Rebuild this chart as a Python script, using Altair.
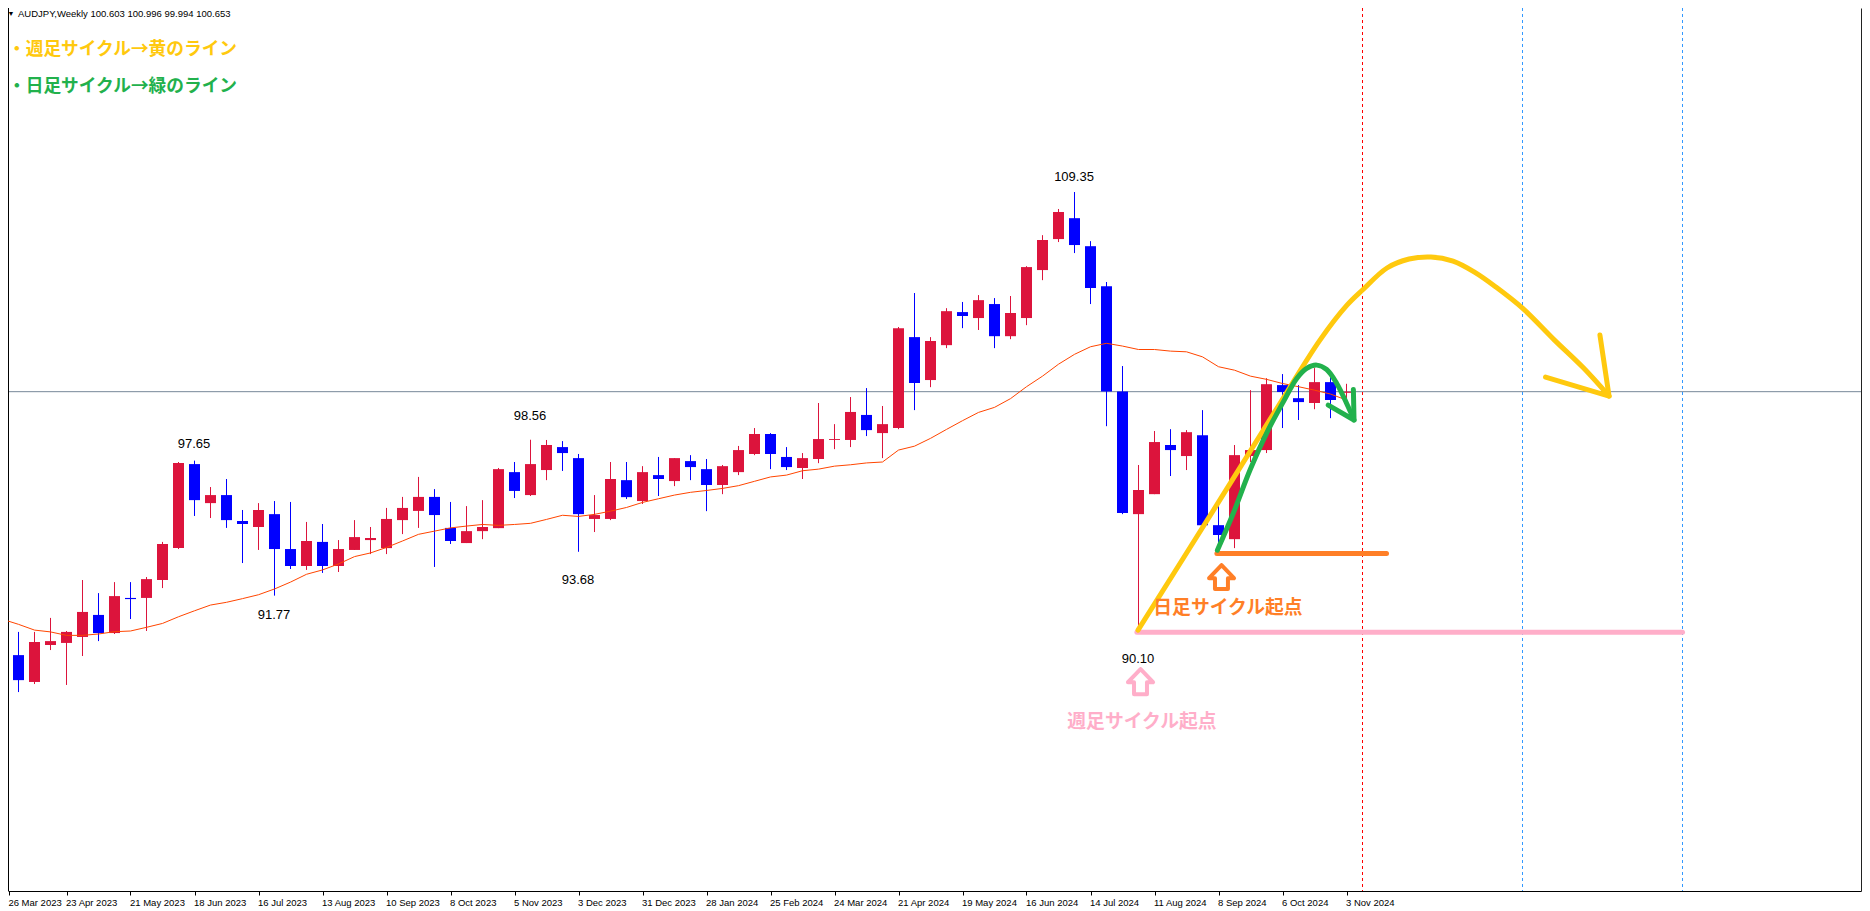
import altair as alt
import pandas as pd

opens = [86.79,89.18,88.01,89.62,89.71,89.97,90.93,90.14,91.67,91.67,
         92.45,93.84,97.50,95.80,96.15,95.02,94.76,95.32,93.80,93.06,
         94.11,93.06,93.76,94.19,93.84,95.06,95.46,96.07,94.72,94.06,
         94.58,94.71,97.15,96.15,97.24,98.24,97.76,95.11,95.11,96.80,
         95.89,97.02,96.76,97.63,97.28,96.59,97.15,97.94,98.81,97.81,
         97.33,97.72,98.55,98.55,99.64,98.85,99.07,103.03,101.16,102.68,
         104.12,103.86,104.47,103.07,103.86,105.95,107.30,108.21,106.99,105.25,
         100.66,95.32,96.19,98.33,97.85,98.76,94.84,94.23,97.85,98.11,
         100.94,100.37,100.16,101.07,100.603]
highs = [89.69,90.19,90.19,90.80,90.23,92.45,91.88,92.36,92.36,92.58,
         94.11,97.59,97.65,96.50,96.85,95.50,95.80,95.89,95.85,94.98,
         94.89,94.19,95.06,94.76,95.59,96.07,96.94,96.41,95.85,95.67,
         95.93,97.33,97.59,98.56,98.55,98.50,97.94,96.15,97.59,97.59,
         97.41,97.81,97.76,97.89,97.72,97.46,98.29,99.07,98.85,98.24,
         97.98,100.16,99.24,100.42,100.81,100.03,103.47,104.95,103.03,104.29,
         104.56,104.86,104.73,104.82,106.12,107.47,108.61,109.35,107.21,105.43,
         101.77,97.46,98.94,99.02,98.98,99.85,95.71,98.33,100.72,101.24,
         101.42,100.94,101.68,101.45,100.996]
lows = [86.67,87.57,87.92,89.40,87.88,89.14,89.79,90.10,90.75,90.23,
        92.10,93.80,95.24,95.15,94.72,93.19,93.76,91.77,92.93,92.89,
        92.76,92.80,93.76,93.58,93.58,94.45,94.72,93.02,94.02,94.06,
        94.23,94.71,96.02,96.11,96.80,97.20,93.68,94.54,95.06,95.98,
        95.76,96.11,96.54,96.80,95.45,96.19,97.02,97.89,97.28,97.24,
        96.85,97.54,98.15,98.24,98.72,97.76,99.02,99.85,100.85,102.55,
        103.42,103.34,102.55,102.94,103.55,105.51,107.17,106.69,104.47,99.15,
        95.32,90.10,96.19,96.98,97.24,94.84,94.05,93.84,97.59,97.98,
        99.07,99.42,99.89,99.50,99.994]
closes = [88.79,88.09,89.75,89.79,90.19,91.06,90.14,91.75,91.62,92.49,
          94.02,97.55,95.93,96.15,95.06,94.89,95.50,93.80,93.06,94.15,
          93.06,93.80,94.32,94.28,95.11,95.59,96.07,95.28,94.15,94.58,
          94.76,97.28,96.33,97.50,98.33,97.98,95.32,95.28,96.85,96.06,
          97.15,96.85,97.76,97.37,96.59,97.41,98.11,98.81,97.94,97.37,
          97.76,98.59,98.59,99.77,98.98,99.24,103.42,101.03,102.86,104.16,
          103.95,104.64,103.07,104.08,106.08,107.26,108.48,107.04,105.17,100.66,
          95.37,96.37,98.46,98.11,98.89,94.84,94.41,97.89,98.11,100.98,
          100.64,100.20,101.07,100.29,100.653]
ema = [90.74,90.52,90.27,90.19,90.04,90.04,90.10,90.20,90.23,90.39,
       90.56,90.85,91.11,91.36,91.48,91.64,91.81,92.06,92.36,92.70,
       92.89,93.15,93.47,93.63,93.87,94.15,94.44,94.58,94.72,94.80,
       94.87,94.83,94.87,94.92,95.09,95.27,95.22,95.31,95.45,95.61,
       95.83,95.99,96.15,96.27,96.35,96.44,96.56,96.75,96.94,97.02,
       97.21,97.28,97.41,97.47,97.55,97.59,98.11,98.28,98.62,99.01,
       99.39,99.75,99.97,100.35,100.87,101.33,101.85,102.28,102.61,102.76,
       102.64,102.49,102.49,102.42,102.39,102.17,101.74,101.59,101.33,101.19,
       101.01,100.87,100.72,100.55,100.29]
tick_labels = ["26 Mar 2023","23 Apr 2023","21 May 2023","18 Jun 2023","16 Jul 2023","13 Aug 2023",
               "10 Sep 2023","8 Oct 2023","5 Nov 2023","3 Dec 2023","31 Dec 2023","28 Jan 2024",
               "25 Feb 2024","24 Mar 2024","21 Apr 2024","19 May 2024","16 Jun 2024","14 Jul 2024",
               "11 Aug 2024","8 Sep 2024","6 Oct 2024","3 Nov 2024"]
current_price = 100.653

yellow_i = [70.97,76.0,79.5,82.34,84.03,85.0,86.53,87.91,89.28,90.66,92.0,93.34,95.0,97.0,98.82,100.41]
yellow_p = [90.27,95.84,99.76,102.90,104.42,105.08,106.04,106.43,106.52,106.34,105.86,105.21,104.29,102.90,101.68,100.46]
yellow_barb_i = [99.84,100.41,96.44]
yellow_barb_p = [103.12,100.46,101.29]
green_i = [75.93,76.93,77.97,79.01,80.05,80.89,81.51,82.14,82.76,83.39,84.01,84.47]
green_p = [93.75,95.37,97.24,98.85,100.21,101.23,101.67,101.81,101.62,101.01,100.14,99.42]
green_barb_i = [84.43,84.47,82.86]
green_barb_p = [100.75,99.42,100.07]
orange_i = [75.9,86.5]
orange_p = [93.61,93.61]
pink_i = [70.9,105.0]
pink_p = [90.18,90.18]
orange_arrow_i = [76.19,76.97,76.59,76.59,75.78,75.78,75.41,76.19]
orange_arrow_p = [93.10,92.53,92.53,92.06,92.06,92.53,92.53,93.10]
pink_arrow_i = [71.13,71.91,71.53,71.53,70.72,70.72,70.34,71.13]
pink_arrow_p = [88.57,88.00,88.00,87.48,87.48,88.00,88.00,88.57]

YELLOW, GREEN, ORANGE, PINK = "#ffc90e", "#22b14c", "#ff7f27", "#ffaec9"
JP = "Noto Sans CJK JP"
AR = "Liberation Sans"

idx = list(range(len(opens)))
df = pd.DataFrame({
    "i": idx, "o": opens, "h": highs, "l": lows, "c": closes, "ema": ema,
    "dir": ["up" if c >= o else "down" for o, c in zip(opens, closes)],
})

xs = alt.Scale(domain=[0.34375, 116.15625], nice=False, zero=False, padding=0)
ys = alt.Scale(domain=[78.906, 117.364], nice=False, zero=False, padding=0)
xaxis = alt.Axis(
    values=[0.4] + [k * 4 for k in range(1, len(tick_labels))],
    labelExpr="%s[round(datum.value/4)]" % str(tick_labels),
    title=None, grid=False, labelAlign="left", labelFlush=False, labelOverlap=False, labelBound=False,
    labelFont=AR, labelFontSize=9.5, labelColor="black", labelPadding=7, labelBaseline="middle",
    labelOffset=-1, tickColor="black", tickSize=4, domainColor="black",
)
yaxis = alt.Axis(orient="right", labels=False, ticks=False, grid=False, title=None, domainColor="#222222")
X = alt.X("i:Q", scale=xs, axis=xaxis)
Y = lambda f: alt.Y(f + ":Q", scale=ys, axis=yaxis)
col = alt.Color("dir:N", scale=alt.Scale(domain=["up", "down"], range=["#dc143c", "#0000ff"]), legend=None)

def path(xv, pv, color, width, interp="linear"):
    d = pd.DataFrame({"i": xv, "p": pv, "n": range(len(xv))})
    return alt.Chart(d).mark_line(color=color, strokeWidth=width, strokeCap="round", strokeJoin="round",
                                  interpolate=interp).encode(x=X, y=Y("p"), order="n:Q")

def note(text, x, y, color="black", size=13, font=AR, weight="normal", align="center"):
    return alt.Chart(pd.DataFrame({"t": [text]})).mark_text(
        color=color, fontSize=size, font=font, fontWeight=weight, align=align, baseline="middle"
    ).encode(x=alt.value(x - 8), y=alt.value(y - 8), text="t:N")

def vline(pos, color):
    return alt.Chart(pd.DataFrame({"i": [pos]})).mark_rule(
        strokeWidth=1, strokeDash=[3, 3], color=color).encode(x=X)

base = alt.Chart(df)
price_line = alt.Chart(pd.DataFrame({"p": [current_price]})).mark_rule(color="#778899", strokeWidth=1).encode(y=Y("p"))
left_frame = alt.Chart(pd.DataFrame({"a": [0]})).mark_rule(color="black", strokeWidth=1).encode(x=alt.value(0.5))
wicks = base.mark_rule(strokeWidth=1).encode(x=X, y=Y("h"), y2="l:Q", color=col)
bodies = base.mark_bar(size=11, strokeWidth=0).encode(x=X, y=Y("o"), y2="c:Q", color=col)
ema_line = base.mark_line(color="#ff4500", strokeWidth=1).encode(x=X, y=Y("ema"))

layers = [
    price_line, vline(85, "#ff0000"), vline(95, "#3399ff"), vline(105, "#3399ff"),
    left_frame, wicks, bodies, ema_line,
    path(pink_i, pink_p, PINK, 5), path(orange_i, orange_p, ORANGE, 5),
    path(orange_arrow_i, orange_arrow_p, ORANGE, 4), path(pink_arrow_i, pink_arrow_p, PINK, 4),
    path(yellow_i, yellow_p, YELLOW, 5, "catmull-rom"), path(yellow_barb_i, yellow_barb_p, YELLOW, 5),
    path(green_i, green_p, GREEN, 5, "catmull-rom"), path(green_barb_i, green_barb_p, GREEN, 5),
    note("▼", 11, 14, size=7, align="center"),
    note("AUDJPY,Weekly  100.603 100.996 99.994 100.653", 18, 14, size=9.5, align="left"),
    note("・週足サイクル→黄のライン", 8, 50, YELLOW, 17.7, JP, "bold", "left"),
    note("・日足サイクル→緑のライン", 8, 87, GREEN, 17.7, JP, "bold", "left"),
    note("日足サイクル起点", 1228, 608, ORANGE, 18.8, JP, "bold"),
    note("週足サイクル起点", 1142, 722, PINK, 18.8, JP, "bold"),
    note("109.35", 1074, 177), note("97.65", 194, 444), note("91.77", 274, 615),
    note("98.56", 530, 416), note("93.68", 578, 580), note("90.10", 1138, 659),
]

chart = alt.layer(*layers).properties(
    width=1853, height=883,
    autosize=alt.AutoSizeParams(type="none"),
    padding={"left": 0, "top": 0, "right": 1, "bottom": 20},
    background="white",
).configure_view(stroke=None)

chart.save("out.html", embed_options={"renderer": "svg", "actions": False})
